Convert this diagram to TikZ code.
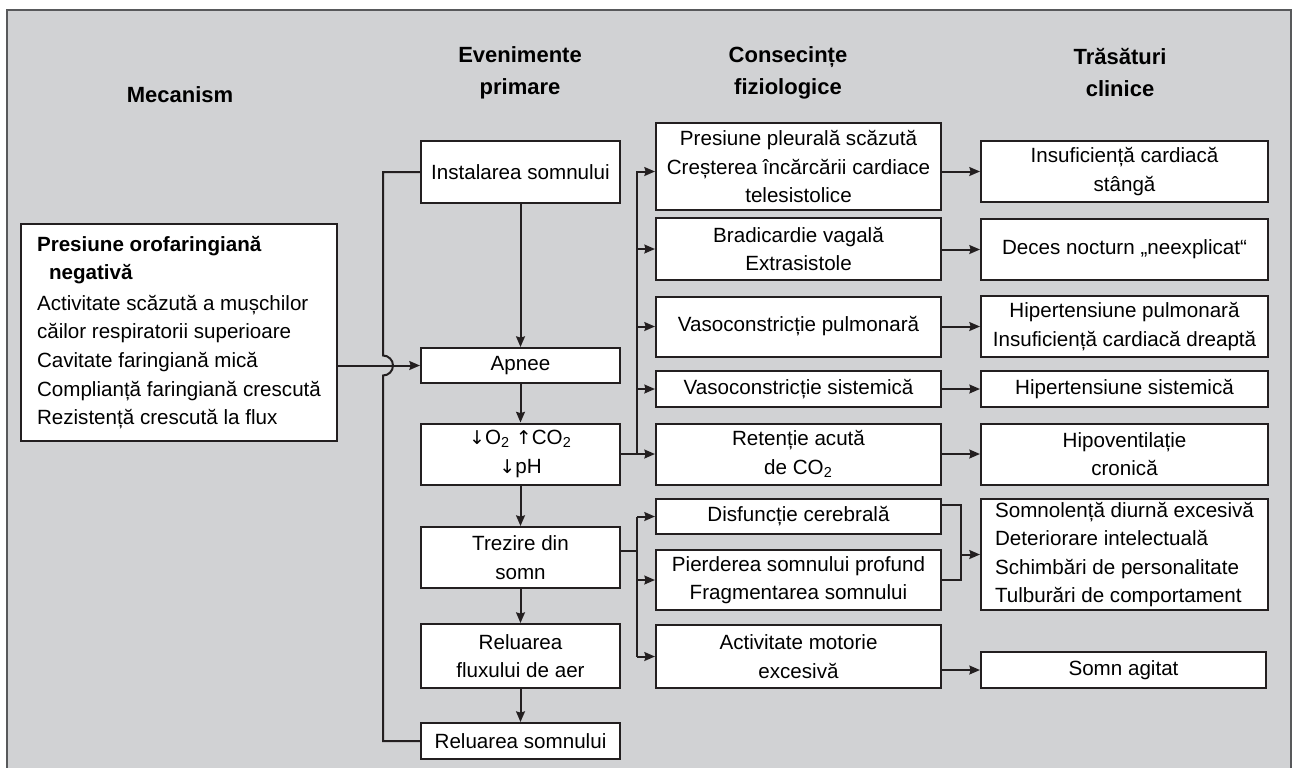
\documentclass[tikz,border=0pt]{standalone}
\usepackage{fontspec}
\setmainfont{Liberation Sans}
\newfontfamily\arrowfont{DejaVu Sans}
\usetikzlibrary{arrows.meta,calc}
\definecolor{panel}{HTML}{D1D2D4}
\definecolor{ink}{HTML}{231F20}
\definecolor{frame}{HTML}{58595B}
\newcommand\dn{{\arrowfont\fontsize{9.5pt}{9.5pt}\selectfont ↓}}
\newcommand\upa{{\arrowfont\fontsize{9.5pt}{9.5pt}\selectfont ↑}}
\begin{document}
\begin{tikzpicture}[x=0.5pt,y=-0.5pt,
  txt/.style={font=\fontsize{10.3pt}{14.3pt}\selectfont},
  bx/.style={draw=ink,line width=1pt,fill=white,inner xsep=2pt,inner ysep=0pt,align=center,txt},
  hdr/.style={font=\bfseries\fontsize{11pt}{16pt}\selectfont,align=center,text=black},
  ln/.style={draw=ink,line width=1pt},
  arr/.style={ln,-{Stealth[length=5.3pt,width=4.4pt,inset=0.6pt]}},
  c2/.style={bx,minimum width=99.5pt},
  c3/.style={bx,minimum width=142.5pt},
  c4/.style={bx,minimum width=143.5pt}]
\useasboundingbox (0,0) rectangle (1293,767);
\filldraw[fill=panel,draw=frame,line width=0.8pt] (7,10) rectangle (1291,790);

% column headings
\node[hdr] (hmec) at (180,95) {Mecanism};
\node[hdr] (hev) at (520,73) {Evenimente\\primare};
\node[hdr] (hcons) at (788,73) {Consecințe\\fiziologice};
\node[hdr] (htr) at (1120,73) {Trăsături\\clinice};

% mechanism
\node[bx,minimum width=158pt,minimum height=108.5pt,align=left] (mec) at (179,332.5)
  {\textbf{Presiune orofaringiană}\\\hspace*{6pt}\textbf{negativă}\\[1pt]Activitate scăzută a mușchilor\\căilor respiratorii superioare\\Cavitate faringiană mică\\Complianță faringiană crescută\\Rezistență crescută la flux};

% primary events
\node[c2,minimum height=31pt]   (inst)   at (520.5,172)   {Instalarea somnului};
\node[c2,minimum height=17.5pt] (apnee)  at (520.5,365.5) {Apnee};
\node[c2,minimum height=30.5pt] (gas)    at (520.5,454)   {\dn O\textsubscript{2} \upa CO\textsubscript{2}\\\dn pH};
\node[c2,minimum height=30.5pt] (trez)   at (520.5,557.5) {Trezire din\\somn};
\node[c2,minimum height=32pt]   (flux)   at (520.5,656)   {Reluarea\\fluxului de aer};
\node[c2,minimum height=18pt]   (relsom) at (520.5,741)   {Reluarea somnului};

% physiological consequences
\node[c3,minimum height=43.5pt] (pleu)  at (798.5,166.5) {Presiune pleurală scăzută\\Creșterea încărcării cardiace\\telesistolice};
\node[c3,minimum height=31pt]   (brad)  at (798.5,249)   {Bradicardie vagală\\Extrasistole};
\node[c3,minimum height=30pt]   (vpul)  at (798.5,326.5) {Vasoconstricție pulmonară};
\node[c3,minimum height=18pt]   (vsis)  at (798.5,389)   {Vasoconstricție sistemică};
\node[c3,minimum height=30.5pt] (ret)   at (798.5,454)   {Retenție acută\\de CO\textsubscript{2}};
\node[c3,minimum height=17.5pt] (disf)  at (798.5,516.5) {Disfuncție cerebrală};
\node[c3,minimum height=30pt]   (pierd) at (798.5,580)   {Pierderea somnului profund\\Fragmentarea somnului};
\node[c3,minimum height=31.5pt] (act)   at (798.5,656.5) {Activitate motorie\\excesivă};

% clinical features
\node[c4,minimum height=30.5pt] (insuf) at (1124.5,171.5) {Insuficiență cardiacă\\stângă};
\node[c4,minimum height=30.5pt] (deces) at (1124.5,249.5) {Deces nocturn „neexplicat“};
\node[c4,minimum height=30.5pt] (htp)   at (1124.5,326.5) {Hipertensiune pulmonară\\Insuficiență cardiacă dreaptă};
\node[c4,minimum height=18pt]   (hts)   at (1124.5,389)   {Hipertensiune sistemică};
\node[c4,minimum height=30.5pt] (hipo)  at (1124.5,454)   {Hipoventilație\\cronică};
\node[c4,minimum height=55.5pt,align=left] (somno) at (1124.5,554.5)
  {Somnolență diurnă excesivă\\Deteriorare intelectuală\\Schimbări de personalitate\\Tulburări de comportament};
\node[bx,minimum width=142.5pt,minimum height=18pt] (agit) at (1123.5,670) {Somn agitat};

% junction points
\coordinate (d1) at (637,0);
\coordinate (t1) at (637,551);
\coordinate (m1) at (961,505);
\coordinate (hop) at (383,365.5);

% sleep cycle loop with a hop over the mechanism arrow
\draw[ln] (inst.west) -| ($(hop)+(0,-10)$)
  arc[start angle=90,end angle=-90,radius=5pt] |- (relsom.west);
\draw[arr] (mec.east |- apnee.west) -- (apnee.west);

% main chain of events
\draw[arr] (inst.south) -- (apnee.north);
\draw[arr] (apnee.south) -- (gas.north);
\draw[arr] (gas.south) -- (trez.north);
\draw[arr] (trez.south) -- (flux.north);
\draw[arr] (flux.south) -- (relsom.north);

% gas exchange fan-out
\draw[arr] (gas.east) -- (d1 |- gas.east) |- (pleu.west |- insuf.west);
\draw[arr] (d1 |- brad.west) -- (brad.west);
\draw[arr] (d1 |- vpul.west) -- (vpul.west);
\draw[arr] (d1 |- vsis.west) -- (vsis.west);
\draw[arr] (d1 |- ret.west) -- (ret.west);

% arousal fan-out
\draw[ln] (trez.east |- t1) -- (t1);
\draw[ln] (d1 |- disf.west) -- (d1 |- act.west);
\draw[arr] (d1 |- disf.west) -- (disf.west);
\draw[arr] (d1 |- pierd.west) -- (pierd.west);
\draw[arr] (d1 |- act.west) -- (act.west);

% consequences to clinical features
\draw[arr] (pleu.east |- insuf.west) -- (insuf.west);
\draw[arr] (brad.east |- deces.west) -- (deces.west);
\draw[arr] (vpul.east) -- (htp.west);
\draw[arr] (vsis.east) -- (hts.west);
\draw[arr] (ret.east) -- (hipo.west);
\draw[ln] (disf.east |- m1) -| (m1 |- pierd.east) -- (pierd.east);
\draw[arr] (m1 |- somno.west) -- (somno.west);
\draw[arr] (act.east |- agit.west) -- (agit.west);
\end{tikzpicture}
\end{document}
